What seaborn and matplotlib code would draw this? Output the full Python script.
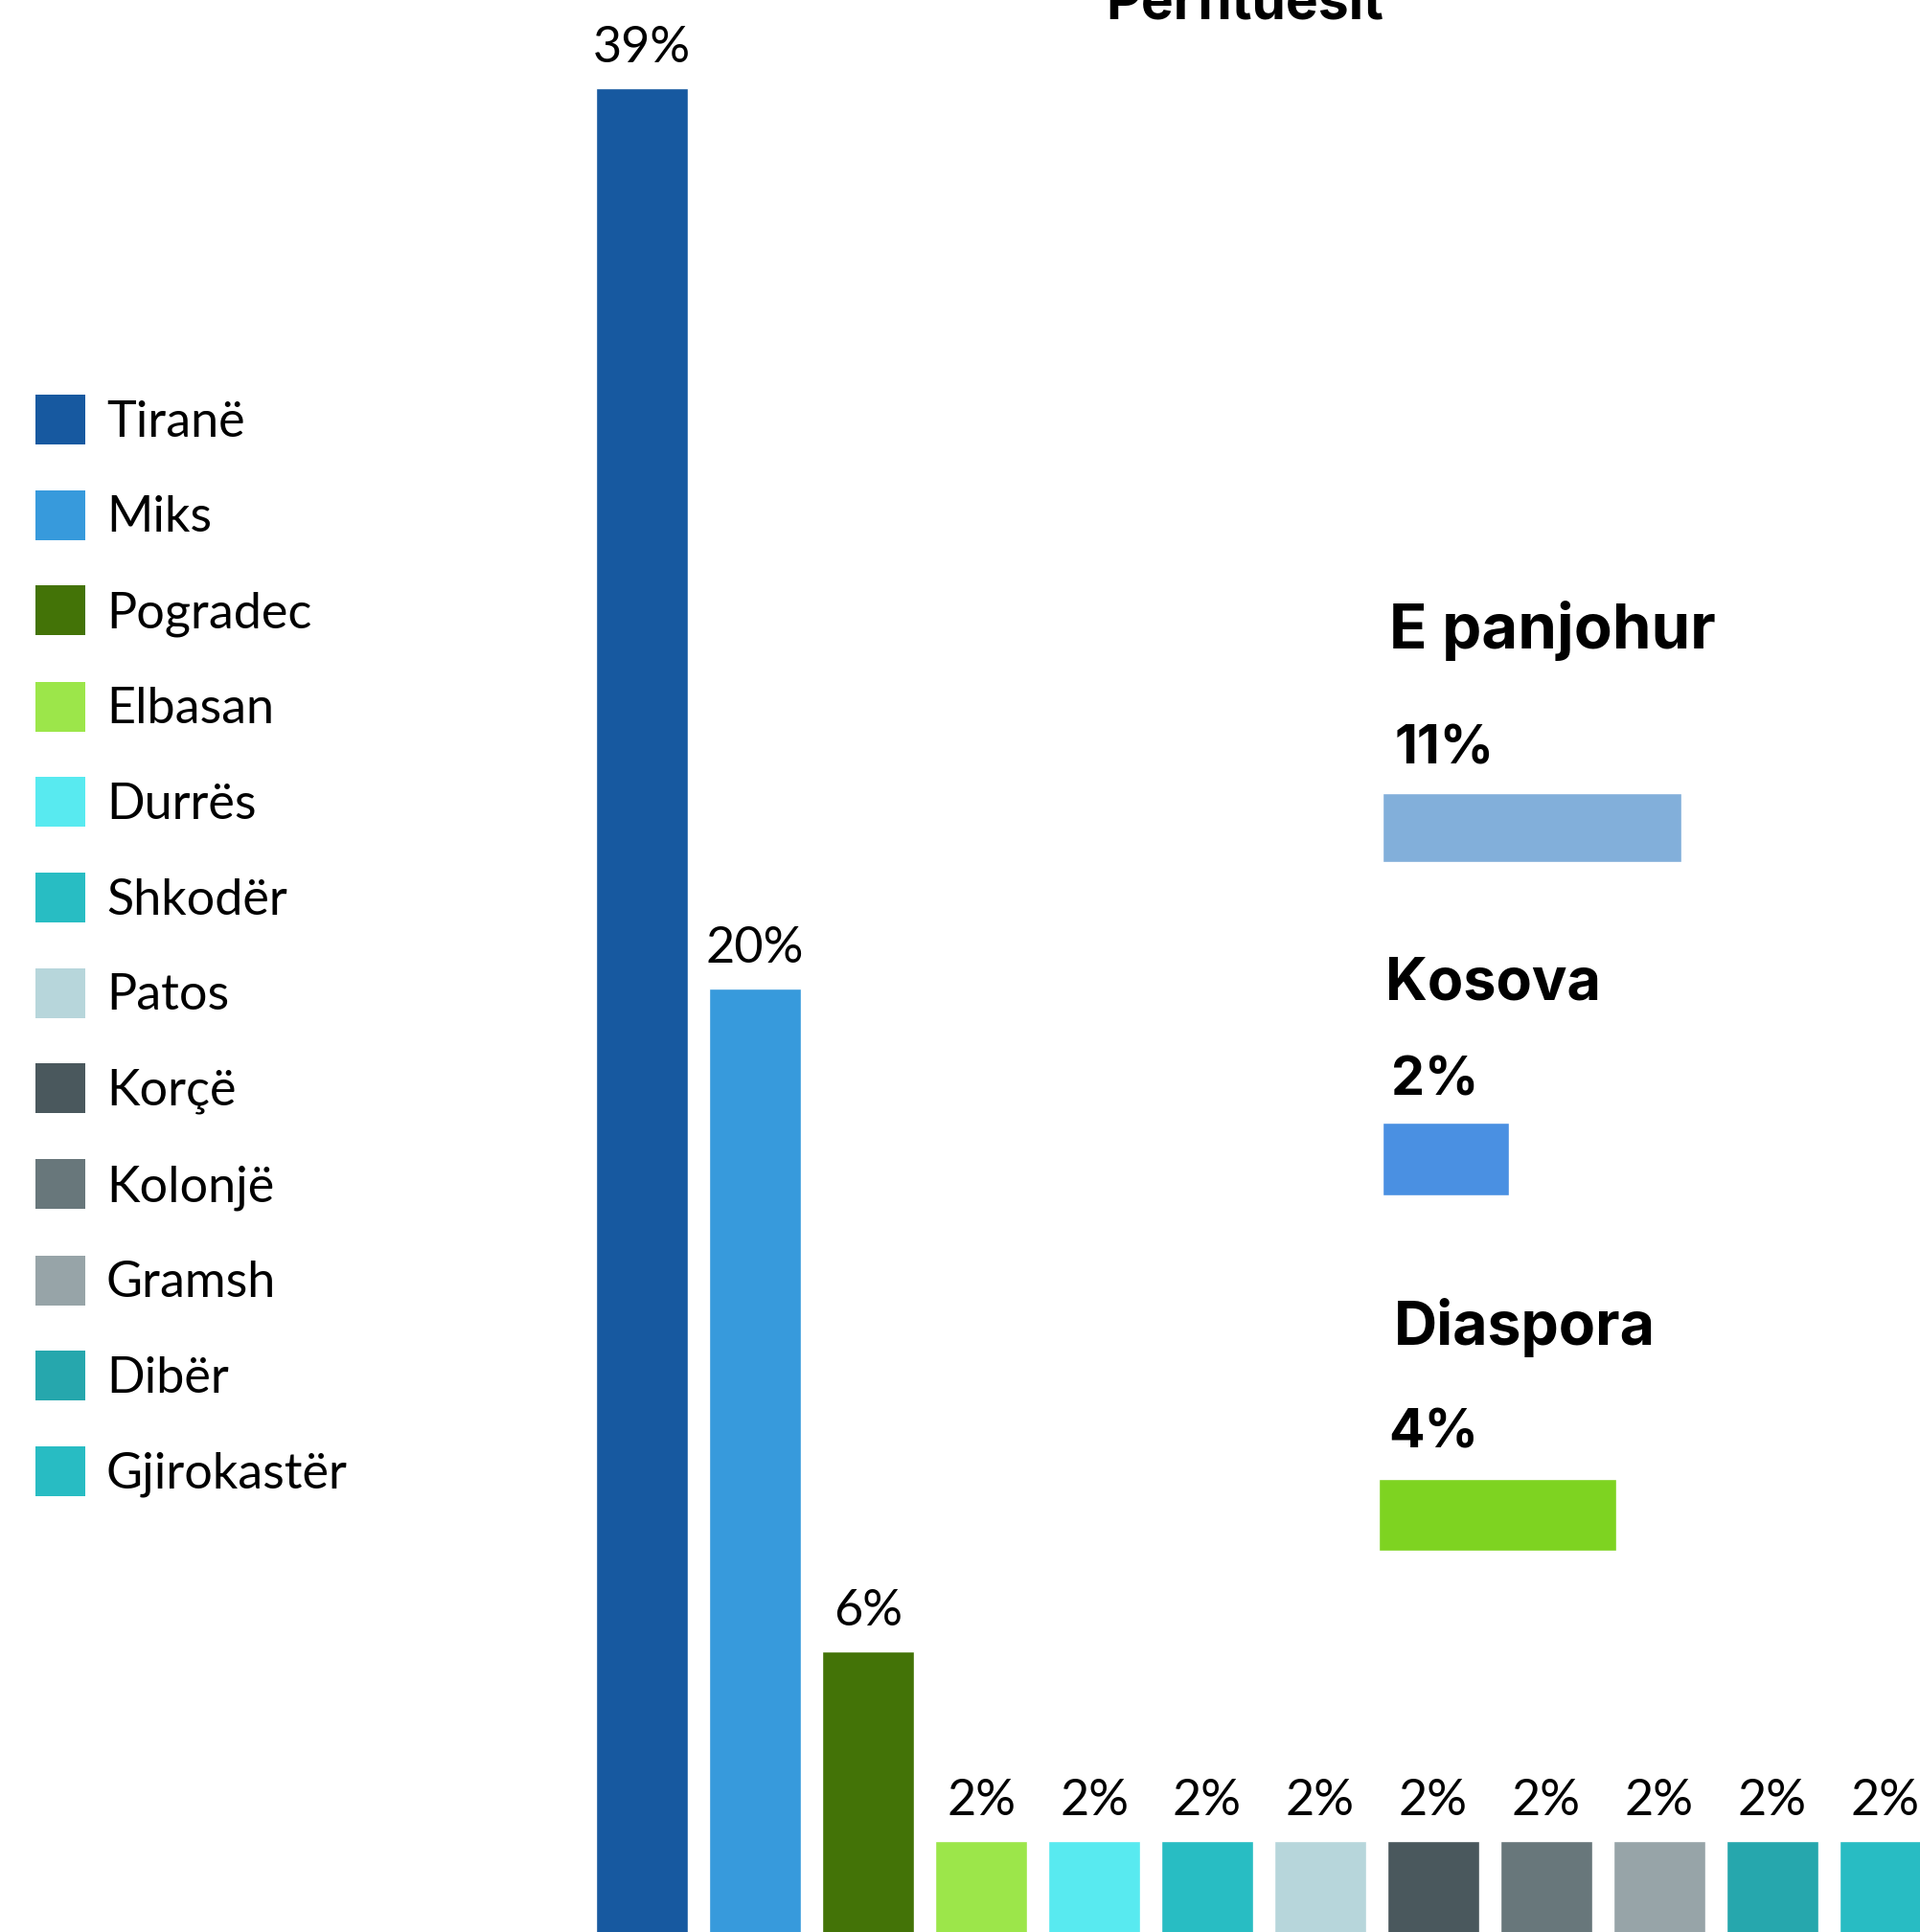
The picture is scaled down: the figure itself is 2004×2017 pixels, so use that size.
import matplotlib
matplotlib.use("Agg")
import matplotlib.pyplot as plt
from matplotlib.patches import Patch
import pandas as pd
import seaborn as sns

# main bars: share of beneficiaries by city
cities = ["Tiranë", "Miks", "Pogradec", "Elbasan", "Durrës", "Shkodër",
          "Patos", "Korçë", "Kolonjë", "Gramsh", "Dibër", "Gjirokastër"]
shares = [39, 20, 6, 2, 2, 2, 2, 2, 2, 2, 2, 2]
city_colors = ["#1759A0", "#379ADC", "#437307", "#9CE64A", "#58EAF0", "#28BDC3",
               "#B7D6DB", "#4A585D", "#68777B", "#97A4A8", "#26A7AD", "#28BCC3"]

# side panel
side_labels = ["E panjohur", "Kosova", "Diaspora"]
side_values = [11, 2, 4]
side_colors = ["#82AFDA", "#4A90E2", "#7ED321"]

title = "Përfituesit"

W, H = 2004, 2017

sns.set_style("white")
plt.rcParams["font.family"] = ["Lato", "DejaVu Sans"]
plt.rcParams["text.color"] = "black"

fig = plt.figure(figsize=(W / 100, H / 100), dpi=100)
fig.patch.set_facecolor("white")

# main bar chart, bars run off the bottom and right edges like the source
ax = fig.add_axes([599.4 / W, 0, 1 - 599.4 / W, 1])
df = pd.DataFrame({"city": cities, "share": shares})
sns.barplot(data=df, x="city", y="share", hue="city", palette=city_colors,
            hue_order=cities, order=cities, width=0.814, dodge=False,
            legend=False, ax=ax, saturation=1)
ax.set_xlim(-0.6, 11.307)
ax.set_ylim(0.086, 40.856)
ax.set_axis_off()
for cont, v in zip(ax.containers, shares):
    ax.bar_label(cont, labels=[f"{v}%"], padding=13, fontsize=37.5,
                 color="black")

# legend on the left
handles = [Patch(facecolor=c, edgecolor="none", label=n)
           for n, c in zip(cities, city_colors)]
fig.legend(handles=handles, loc="upper left",
           bbox_to_anchor=(37 / W, 1 - 412 / H), frameon=False,
           borderpad=0, borderaxespad=0, handlelength=1.0, handleheight=1.16,
           handletextpad=0.42, labelspacing=0.903, fontsize=37.5,
           labelcolor="black")

bold_fam = ["Inter", "DejaVu Sans"]

# title, mostly cut off by the top edge
fig.text(1299 / W, 1 - 20 / H, title, ha="center", va="baseline",
         fontsize=41, fontweight="bold", family=bold_fam, color="black")

# side panel: heading, value, bar
head_pos = [(1450, 677), (1446, 1044), (1455, 1404)]
head_size = [47, 44, 45]
val_pos = [(1456, 797), (1452, 1144), (1449, 1512)]
bar_box = [(1443, 828, 1755, 900), (1443, 1172, 1575, 1248),
           (1439, 1544, 1687, 1619)]
for lab, v, col, hp, hs, vp, bb in zip(side_labels, side_values, side_colors,
                                       head_pos, head_size, val_pos, bar_box):
    fig.text(hp[0] / W, 1 - hp[1] / H, lab, ha="left", va="baseline",
             fontsize=hs, fontweight="bold", family=bold_fam, color="black")
    fig.text(vp[0] / W, 1 - vp[1] / H, f"{v}%", ha="left", va="baseline",
             fontsize=40, fontweight="bold", family=bold_fam, color="black")
    x0, y0, x1, y1 = bb
    sax = fig.add_axes([x0 / W, 1 - y1 / H, (x1 - x0) / W, (y1 - y0) / H])
    sns.barplot(x=[v], y=[lab], orient="h", color=col, width=1.0,
                saturation=1, ax=sax)
    sax.set_xlim(0, v)
    sax.set_ylim(0.5, -0.5)
    sax.set_axis_off()

fig.savefig("out.png", dpi=100, facecolor="white")
